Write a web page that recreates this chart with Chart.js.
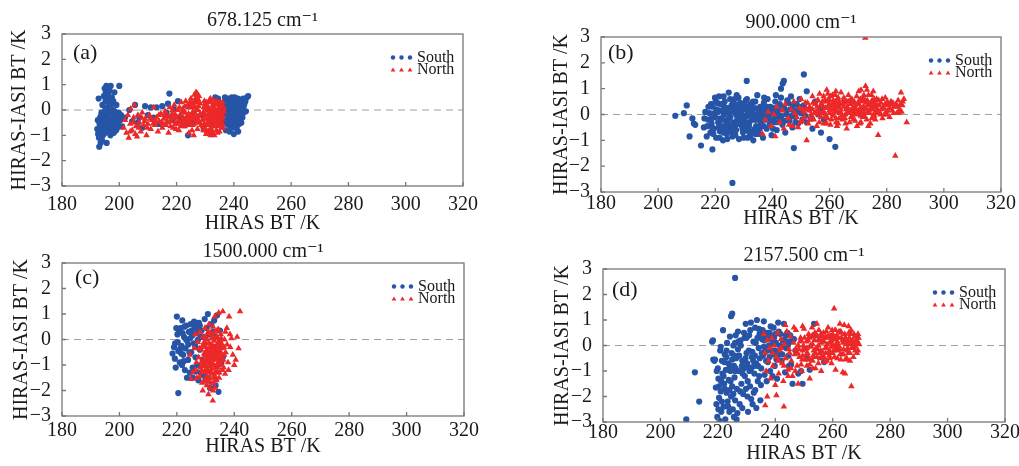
<!DOCTYPE html>
<html lang="en">
<head>
<meta charset="UTF-8" />
<title>HIRAS-IASI BT differences</title>
<script src="https://cdn.jsdelivr.net/npm/chart.js@4.4.1/dist/chart.umd.min.js"></script>
<style>
  body { margin: 0; background: #fff; width: 1019px; height: 466px; position: relative; overflow: hidden; }
  canvas { position: absolute; }
</style>
</head>
<body>
<canvas id="pa" width="520" height="240" style="left:0;top:0"></canvas>
<canvas id="pb" width="499" height="240" style="left:520px;top:0"></canvas>
<canvas id="pc" width="520" height="234" style="left:0;top:232px"></canvas>
<canvas id="pd" width="499" height="234" style="left:520px;top:232px"></canvas>
<script>
const xTicks = [180, 200, 220, 240, 260, 280, 300, 320];
const yTicks = [-3, -2, -1, 0, 1, 2, 3];
const titles = ['678.125 cm\u207B\u00B9', '900.000 cm\u207B\u00B9', '1500.000 cm\u207B\u00B9', '2157.500 cm\u207B\u00B9'];
const panelLabels = ['(a)', '(b)', '(c)', '(d)'];
const seriesNames = ['South', 'North'];

// (a) 678.125 cm-1
const southA = [[192.3,-0.75],[192.6,-0.95],[192.8,0.45],[193.0,-1.45],[193.1,-0.55],[193.3,-0.3],[193.5,-1.3],[193.6,-0.85],[193.8,-0.1],[194.0,-0.6],[194.1,0.2],[194.3,-1.0],[194.4,-0.35],[194.6,0.55],[194.7,-0.7],[194.9,0.85],[195.0,-0.2],[195.1,-0.9],[195.2,0.35],[195.4,-0.45],[195.5,0.95],[195.6,-1.3],[195.7,0.1],[195.8,-0.65],[196.0,0.6],[196.1,-0.3],[196.2,-0.8],[196.3,0.3],[196.5,-0.05],[196.6,0.75],[196.7,-0.55],[196.9,-1.0],[197.0,0.95],[197.1,0.2],[197.2,-0.4],[197.4,0.5],[197.5,-0.7],[197.7,-0.15],[197.8,0.0],[198.0,-0.35],[198.2,-0.6],[198.3,0.7],[198.5,-0.2],[198.7,-0.5],[198.9,-0.8],[199.0,0.2],[199.2,-0.3],[199.5,-0.55],[199.8,-0.1],[200.0,0.95],[200.3,-0.4],[200.6,-0.2],[201.0,-0.65],[194.2,-0.25],[195.3,-0.6],[196.4,-0.45],[197.3,-0.75],[198.1,-0.9],[193.9,-0.5],[195.9,-0.1],
  [193.2,-0.7],[193.7,-0.2],[194.5,-0.8],[194.8,-0.4],[195.1,0.0],[195.6,0.45],[196.0,-0.35],[196.3,-0.65],[196.8,0.4],[197.6,-0.45],[198.4,-0.05],[198.8,-0.3],[199.3,-0.7],[196.1,0.9],[195.3,0.7],[197.9,0.35],[192.5,-0.4],[194.0,-1.2],[192.9,-1.1],
  [202.0,-0.3],[203.5,0.0],[204.5,-0.45],[205.5,0.2],[206.5,-0.5],[207.0,-0.3],[208.0,-0.7],[209.0,0.15],[210.0,-0.2],[211.0,0.1],[212.0,-0.3],[213.0,0.1],[214.0,-0.55],[215.0,0.15],[216.5,-0.1],[217.0,0.25],[217.5,0.65],[218.5,-0.4],[219.0,0.05],[220.5,0.35],[221.5,-0.3],[223.0,-0.6],[224.0,-1.0],[224.5,0.15],[226.0,-0.45],[228.5,-0.2],[229.5,-0.75],[230.5,0.1],[232.0,-0.5],[233.5,0.5],[234.5,0.45],[235.5,-0.3],
  [235.8,0.1],[236.2,-0.2],[236.5,0.3],[236.8,-0.5],[237.0,0.0],[237.2,-0.8],[237.5,0.2],[237.7,-0.35],[238.0,0.45],[238.2,-0.1],[238.4,-0.6],[238.6,0.15],[238.8,-0.3],[239.0,0.35],[239.2,-0.7],[239.4,0.0],[239.6,-0.45],[239.8,0.25],[240.0,-0.95],[240.1,-0.2],[240.3,0.5],[240.5,0.1],[240.7,-0.55],[240.9,-0.1],[241.1,0.3],[241.3,-0.35],[241.5,-0.85],[241.7,0.05],[241.9,0.4],[242.1,-0.25],[242.3,0.2],[242.6,-0.5],[242.9,0.0],[243.2,0.45],[243.5,-0.1],[243.8,0.3],[244.2,-0.05],[244.6,0.5],[245.0,0.55],[236.9,0.5],[238.5,-0.85],[239.9,0.1],[240.8,0.35],[241.0,-0.7],[242.0,-0.05],[237.4,-0.1],[239.3,0.5],[243.0,-0.3],
  [236.4,-0.45],[237.1,0.35],[237.9,-0.25],[238.3,0.3],[238.9,-0.5],[239.5,0.2],[240.2,0.0],[240.6,-0.35],[241.2,0.1],[241.6,-0.4],[242.2,0.35],[242.4,-0.15],[242.8,0.25],[243.3,0.1],[243.6,0.2],[244.0,0.35],[239.1,-0.15],[240.4,-0.7],[241.8,-0.55],[238.1,0.05],[237.6,-0.55],[239.7,0.4],[241.4,0.45],[236.6,0.0]];
const northA = [[201.5,-0.7],[202.0,-0.4],[202.5,-0.9],[203.0,-0.2],[203.3,-1.1],[203.8,-0.55],[204.0,0.05],[204.5,-0.8],[205.0,-0.3],[205.3,0.2],[205.8,-0.65],[206.2,-1.05],[206.5,-0.2],[207.0,-0.5],[207.5,-0.85],[208.0,-0.1],[208.5,-0.6],[209.0,-0.35],[209.5,-1.0],[210.0,-0.55],[210.5,-0.2],[211.0,-0.75],[211.5,-0.4],[212.0,0.1],[212.5,-0.6],[213.0,-0.3],[213.5,-0.85],[214.0,-0.45],[214.5,-0.15],[215.0,-0.7],
  [212.8,-0.45],[210.8,-0.35],[208.8,-0.45],[206.8,-0.7],[204.8,-0.5],[203.8,-0.85],[205.6,-0.95],[207.8,-0.3],[209.8,-0.7],[211.8,-0.55],[213.8,-0.2],[214.8,-0.5],
  [215.5,-0.35],[216.0,-0.05],[216.3,-0.6],[216.8,-0.25],[217.2,-0.9],[217.6,0.1],[218.0,-0.45],[218.4,-0.15],[218.8,-0.7],[219.2,0.2],[219.6,-0.3],[220.0,-0.55],[220.4,0.0],[220.8,-0.8],[221.2,-0.2],[221.6,0.3],[222.0,-0.45],[222.4,-0.05],[222.8,-0.65],[223.2,0.35],[223.6,-0.25],[224.0,0.1],[224.3,-0.9],[224.6,-0.45],[225.0,0.45],[225.3,-0.15],[225.6,-0.6],[225.9,0.2],[226.2,0.6],[226.5,-0.35],[226.8,0.7],[227.0,0.0],[227.3,-0.75],[227.6,0.4],[227.9,-0.25],[226.0,-1.0],[224.8,-0.3],[223.0,-0.1],[221.0,-0.5],[219.0,-0.35],[217.0,-0.5],
  [218.2,-0.25],[219.5,-0.55],[220.2,-0.3],[221.0,0.1],[221.8,-0.6],[222.2,-0.3],[222.9,0.15],[223.4,-0.45],[223.8,-0.6],[224.2,-0.15],[224.9,0.1],[225.2,0.25],[225.5,-0.3],[225.8,-0.05],[226.1,-0.55],[226.4,0.35],[226.7,0.1],[227.1,0.5],[227.4,-0.35],[227.7,0.15],[228.0,-0.5],[228.2,0.25],[226.9,-0.2],[225.4,-0.8],[227.2,0.65],
  [215.2,-0.55],[215.8,-0.2],[216.6,-0.45],[217.4,-0.3],[217.9,-0.65],[218.6,0.0],[219.4,-0.15],[219.8,-0.75],[220.6,-0.45],[221.4,-0.65],[221.9,-0.1],[222.6,-0.5],[223.0,-0.35],[223.9,0.2],[224.4,-0.35],[224.7,0.3],[225.1,-0.55],[225.7,0.1],[226.3,-0.15],[226.6,0.45],[227.0,-0.5],[227.5,0.0],[227.8,0.55],[228.3,-0.15],[228.6,-0.6],[226.0,0.3],[227.3,0.3],[225.9,-0.35],[224.1,-0.6],[222.1,0.05],
  [229.0,-0.4],[229.5,0.1],[229.8,-0.8],[230.1,-0.2],[230.4,0.3],[230.7,-0.55],[231.0,-0.95],[231.2,0.0],[231.5,-0.35],[231.8,0.45],[232.0,-0.7],[232.3,-0.1],[232.6,0.2],[232.9,-0.5],[233.2,-1.0],[233.5,-0.25],[233.8,0.35],[234.1,-0.65],[234.4,0.05],[234.7,-0.4],[235.0,-0.85],[235.3,0.25],[235.6,-0.15],[236.0,-0.55],[236.4,0.1],[230.0,-0.6],[231.6,-0.6],[233.0,0.1],[234.0,-0.15],[235.0,-0.45],[232.5,-0.85],[230.6,0.0],
  [229.3,-0.1],[229.6,-0.55],[229.9,0.25],[230.2,-0.75],[230.5,-0.35],[230.8,0.15],[231.1,-0.45],[231.4,-0.8],[231.7,-0.15],[232.0,0.3],[232.2,-0.4],[232.4,-0.95],[232.7,-0.3],[233.0,-0.65],[233.3,0.0],[233.6,-0.45],[233.9,-0.8],[234.2,0.2],[234.5,-0.25],[234.8,-0.6],[235.1,0.0],[235.4,-0.3],[235.7,-0.7],[236.2,-0.25],[230.3,-0.95],[231.3,0.35],[232.8,0.4],[234.3,-0.9],[229.5,-0.35],[236.6,-0.05],
  [229.2,-0.65],[229.7,0.35],[230.0,0.05],[230.9,-0.2],[231.4,-0.05],[231.9,-0.35],[232.1,-0.9],[232.5,-0.2],[233.1,-0.4],[233.4,0.25],[233.7,-0.1],[234.0,-0.4],[234.6,0.3],[234.9,-0.15],[235.2,-0.6],[235.5,0.1],[235.9,-0.35],[236.3,-0.7],[230.6,-0.85],[231.9,-1.0],[233.9,-0.55],[229.4,-0.8],[236.0,0.3],[232.2,0.05],[230.2,0.2]];

// (b) 900.000 cm-1
const southB = [[206,-0.05],[209,0.05],[210,0.35],[211,-0.85],[212,-0.15],[212.5,-0.35],[213,-0.4],[215,-1.2],[219,-1.35],[226,-2.65],[231,1.3],[243,1.0],[244,1.3],[243.6,1.2],[251,1.55],[247.5,-1.3],[260,-0.95],[262,-1.25],[257,-0.7],[252,0.9],
  [216,-0.5],[216.5,0.1],[217,-0.85],[217.5,-0.2],[218,0.05],[218.3,-0.7],[218.7,-0.35],[219,0.3],[219.5,-0.55],[220,-0.1],[220.3,-0.9],[220.7,0.45],[221,-0.3],[221.3,0.7],[221.6,-0.65],[222,0.15],[222.3,-0.45],[222.7,-1.0],[223,0.0],[223.3,0.5],[223.7,-0.25],[224,-0.75],[224.3,0.25],[224.7,0.85],[225,-0.5],[225.3,-0.1],[225.7,0.35],[226,-0.85],[226.3,-0.3],[226.7,0.6],[227,0.05],[227.3,-0.6],[227.7,-0.2],[228,0.3],[228.3,-0.95],[228.7,0.45],[229,-0.4],[229.3,0.0],[229.7,-0.7],[230,0.2],[230.3,-0.15],[230.7,0.55],[231,-0.5],[231.3,-0.9],[231.7,0.1],[232,-0.3],[232.3,0.4],[232.7,-0.65],[233,0.15],[233.3,-1.0],[233.7,-0.2],[234,0.5],[234.3,-0.45],[234.7,0.75],[235,-0.1],[235.3,-0.75],[235.7,0.3],[236,-0.35],[236.3,0.05],[236.7,-0.9],[237,0.45],[237.3,-0.2],[237.7,0.2],[238,-0.55],[238.3,0.6],[238.7,-0.05],[239,-0.4],[239.3,0.3],[239.7,-0.8],[240,0.1],[240.5,-0.3],[241,0.5],[241.5,-0.6],[242,0.2],[242.5,-0.1],[243,0.65],[243.5,-0.4],[244,0.3],[244.5,-0.7],[245,0.0],[245.5,0.45],[246,-0.25],[246.5,0.7],[247,-0.5],[247.5,0.15],[248,-0.1],[248.5,0.4],[249,-0.35],[249.5,0.6],[250,0.05],[250.5,-0.2],[251,0.35],[252,-0.3],[253,0.2],[254,-0.55],[255,0.5],[256,0.0],[257,0.25],[258,-0.2],[219.7,0.05],[221.8,-0.15],[224.5,-0.35],[226.5,0.15],[228.5,-0.1],[230.5,-0.35],[232.5,0.0],[234.5,-0.2],[236.5,0.25],[238.5,-0.2],[218.5,0.4],[223.5,-0.6],[227.5,0.75],[231.5,0.3],[235.5,-0.55],[240.2,-0.55],[242.8,-0.2],[246.8,-0.05],[225.8,0.25],[229.8,-0.25],
  [218.8,-0.15],[219.3,-0.75],[220.5,0.2],[221.2,-0.5],[222.5,-0.2],[223.2,0.3],[223.9,-0.45],[224.9,0.05],[225.5,-0.65],[226.2,0.45],[226.9,-0.45],[227.2,0.25],[227.9,-0.35],[228.9,0.2],[229.5,-0.55],[230.2,0.4],[230.9,-0.05],[231.9,-0.7],[232.9,0.3],[233.5,0.0],[233.9,-0.55],[234.9,0.2],[235.9,0.1],[236.9,-0.45],[237.5,0.0],[238.9,0.15],[239.5,-0.25],[240.8,-0.1],[241.8,0.05],[243.2,-0.05],[244.8,0.15],[245.8,-0.2],[247.2,0.35],[248.8,0.1],[250.2,0.3],[221.5,-0.9],[224.2,-0.95],[227.0,-0.8],[229.9,-0.9],[232.2,-0.85],[234.1,-0.75],[217.2,-0.45],[216.2,-0.15],[219.9,0.65],[222.9,0.7],[228.1,0.65],[231.1,0.6],[237.1,0.65],[241.2,0.75],[245.2,0.55],
  [217.6,0.3],[218.9,-0.5],[220.1,0.5],[220.9,0.1],[221.9,0.4],[222.8,-0.7],[223.8,0.15],[224.6,-0.15],[225.2,0.6],[226.1,-0.6],[226.8,0.4],[227.6,-0.05],[228.4,0.1],[229.1,-0.2],[229.6,0.35],[230.4,-0.6],[231.2,0.0],[231.8,-0.45],[232.6,-0.15],[233.2,0.5],[233.8,0.25],[234.6,-0.6],[235.2,0.05],[236.2,-0.15],[237.2,0.1],[238.2,0.3],[239.2,0.0],[240.6,0.25],[241.6,-0.3],[242.6,0.4],[244.2,-0.25],[246.2,0.2],[248.2,-0.3],[249.2,0.2],[251.5,-0.05],[253.5,-0.15]];
const northB = [[236.5,-0.75],[237.5,-0.2],[238.5,0.1],[239.5,-0.45],[240.5,0.0],[241,-0.85],[241.5,0.3],[242.5,-0.3],[243.5,0.15],[244,-0.55],[244.5,0.4],[245.5,-0.15],[246.5,0.2],[247,-0.45],[247.5,0.5],[248.5,-0.1],[249,-0.5],[249.5,0.25],[250,0.6],[250.5,-0.25],[251,0.1],[251.5,0.45],[252,-1.0],[252.5,-0.35],[253,0.3],[253.5,0.0],[254,0.7],[254.5,-0.2],[255,0.4],[255.5,-0.45],[256,0.15],[256.5,0.8],[257,-0.1],[257.5,0.5],[258,-0.35],[258.5,0.25],[259,0.95],[259.3,-0.15],[259.6,0.6],[260,0.05],[260.3,-0.4],[260.6,0.35],[261,0.75],[261.3,-0.05],[261.6,0.2],[262,0.5],[262.3,-0.3],[262.6,0.1],[263,0.65],[263.3,-0.15],[263.6,0.4],[264,0.85],[264.5,-0.2],[265,0.3],[265.5,0.0],[266,-0.55],[266.5,0.5],[267,0.15],[267.5,-0.1],[268,0.45],[268.5,0.25],[269,-0.25],[269.5,0.7],[270,0.05],[270.3,0.4],[270.6,-0.35],[271,0.95],[271.3,0.15],[271.6,-0.1],[272,0.55],[272.3,0.25],[272.6,1.1],[273,-0.2],[273.3,0.35],[273.6,0.75],[274,0.05],[274.3,-0.35],[274.6,0.45],[275,0.2],[275.3,0.9],[275.6,-0.05],[276,0.3],[276.5,0.6],[277,-0.8],[277.5,0.1],[278,0.45],[278.5,-0.15],[279,0.25],[279.5,0.65],[280,0.0],[280.5,0.35],[281,-0.1],[281.5,0.5],[282,0.15],[282.5,0.3],[283,-1.6],[283.5,0.05],[284,0.55],[284.5,0.2],[285,0.85],[285.5,0.35],[286,0.6],[287,-0.3],[272.5,2.97],[258,0.1],[259.5,0.3],[261.5,0.45],[263.5,0.05],[262.8,0.3],[260.8,0.2],[257.8,0.3],[256.2,0.0],[265.8,0.2],[268.8,0.05],[271.8,0.3],[273.8,0.15],[275.8,0.45],[267.8,0.6],[270.8,0.6],[274.8,-0.15],[278.8,0.3],[264.8,0.55],[255.8,0.55],[253.8,-0.05],[251.8,0.2],[249.8,-0.3],[247.8,0.05],[245.8,-0.4],
  [252.8,0.15],[254.2,0.45],[255.3,0.1],[256.8,0.35],[257.3,0.05],[258.3,0.55],[258.8,-0.1],[259.8,0.4],[260.4,0.7],[261.1,0.0],[261.8,0.35],[262.4,0.15],[263.2,0.45],[263.9,0.2],[264.3,-0.05],[265.2,0.45],[266.2,0.3],[266.8,0.05],[267.3,0.4],[268.2,0.1],[268.6,0.5],[269.3,0.2],[269.8,0.4],[270.2,0.15],[270.9,-0.05],[271.4,0.5],[272.2,0.05],[272.8,0.45],[273.4,0.1],[274.2,0.35],[274.9,0.55],[275.4,0.0],[276.2,0.15],[276.8,0.35],[277.2,0.55],[278.2,0.2],[279.2,0.0],[280.2,0.5],[281.2,0.25],[282.2,0.45],[283.8,0.3],[284.8,0.4],[285.2,0.1],[260,0.55],[262,0.75],[265,0.65],[268,-0.05],[272,0.75],[276,-0.2],[279.8,0.1],[256,0.55],[254,0.2],[259,-0.35],[263,-0.35],[267,-0.3],[271,-0.3],
  [250.5,0.2],[251.2,-0.1],[252.3,0.45],[253.2,-0.2],[254.6,0.05],[255.6,0.3],[256.4,-0.3],[257.2,0.4],[257.9,0.7],[258.6,0.0],[259.2,0.5],[259.9,0.15],[260.6,-0.2],[261.3,0.55],[261.9,0.1],[262.2,-0.15],[262.9,0.6],[263.4,0.3],[264.1,0.05],[264.6,0.4],[265.4,-0.15],[265.9,0.5],[266.4,0.1],[267.2,0.55],[267.7,0.2],[268.3,-0.2],[268.9,0.35],[269.6,0.0],[270.4,0.55],[270.7,0.25],[271.2,0.05],[271.9,0.65],[272.4,-0.1],[272.9,0.2],[273.2,0.55],[273.9,0.4],[274.4,0.2],[274.7,0.75],[275.2,0.35],[275.7,0.6],[276.3,0.05],[276.7,0.2],[277.4,0.35],[277.8,0.0],[278.4,0.6],[279.4,0.4],[280.4,0.15],[281.4,0.4],[282.4,0.05],[283.3,0.4],[284.2,0.05],[285.6,0.5],[259.4,0.8],[262.2,0.9],[266.6,0.75],[270.2,0.9],[273.1,0.95],[262.6,-0.45],[265.6,-0.35],[269.6,-0.45],[273.6,-0.45]];

// (c) 1500.000 cm-1
const southC = [[218.5,-0.55],[219,-0.3],[219.3,-0.75],[219.6,-1.1],[220,0.9],[220.3,-0.1],[220.5,-0.45],[220.8,0.3],[221,-0.9],[221.3,0.45],[221.6,-0.25],[221.9,0.75],[222.2,-0.6],[222.5,0.1],[222.8,-1.2],[223,-0.35],[223.3,0.55],[223.6,-0.05],[223.9,-0.8],[224.2,0.3],[224.5,-1.3],[224.8,0.6],[225,-0.5],[225.3,0.15],[225.6,-1.5],[225.9,-0.15],[226.2,0.5],[226.5,-0.7],[226.8,0.25],[227.1,-1.0],[227.4,0.0],[227.7,0.65],[228,-0.4],[228.3,-1.3],[228.6,0.35],[229,-0.8],[229.3,0.1],[229.7,0.8],[230,-1.6],[230.4,0.45],[230.8,1.0],[231.2,0.2],[231.6,-1.9],[232,0.6],[232.5,0.3],[233,0.75],[233.5,0.1],[234,0.95],[234.5,-2.05],[235,0.35],[235.5,-0.9],[236,-0.7],[220.5,-2.1],[222,0.25],[224,-0.2],[226,0.7],[228,0.55],[219.8,0.45],[221.5,-0.55],[223.5,-1.5],[225.5,-1.1],[227.5,-1.6],[229.5,-1.4],[231,-1.5],[233.5,-1.8],
  [220.2,0.2],[221.2,-0.35],[222.4,-0.85],[223.2,0.0],[224.4,-0.5],[225.2,0.35],[226.4,-0.25],[227.2,0.45],[222.6,0.5],[224.6,0.05],[226.6,-1.25],[228.4,0.1],[219.4,-0.15],[221.8,-1.0]];
const northC = [[224.5,-0.6],[225,-1.55],[225.5,-1.3],[226,-0.35],[226.5,0.2],[226.8,-0.9],[227,-1.5],[227.3,-0.1],[227.6,-0.7],[228,0.3],[228.2,-1.1],[228.5,-0.4],[228.8,-1.7],[229,0.1],[229.2,-0.8],[229.4,-1.3],[229.6,-0.2],[229.8,0.45],[230,-1.0],[230.2,-0.5],[230.4,-1.8],[230.6,0.0],[230.8,-1.2],[231,-0.65],[231.2,0.6],[231.4,-1.5],[231.6,-0.3],[231.8,-0.95],[232,0.25],[232.2,-1.35],[232.4,-0.55],[232.6,-2.0],[232.8,0.05],[233,-0.8],[233.2,0.9],[233.4,-1.1],[233.6,-0.4],[233.8,-1.6],[234,0.35],[234.2,-0.15],[234.4,-0.9],[234.6,1.05],[234.8,-1.3],[235,-0.45],[235.3,0.2],[235.6,-0.75],[236,1.1],[236.3,-1.1],[236.6,0.0],[237,-0.5],[237.4,0.45],[237.8,-0.9],[238.2,0.9],[238.6,-0.3],[239,0.05],[239.5,-0.6],[240,-1.0],[240.5,-0.8],[241,0.1],[241.5,-0.35],[242,1.1],[232.5,-2.4],[229,-2.0],[231,-2.15],[228,-1.45],[230,-0.15],[231,0.25],[232,-0.6],[233,-0.05],[234,-0.6],[235,-1.0],[229.5,-0.55],[230.5,-1.45],[231.5,-1.05],[232.5,-0.25],[233.5,-1.25],[234.5,-0.35],[235.5,-0.15],[236.5,-0.6],[228.5,-0.9],[230.8,-0.85],[232.8,-1.0],[234.8,-0.05],[229.8,-1.25],[231.8,-1.7],[233.3,-1.9],[227.8,-0.35],[236.8,-1.35],[238,-1.2],[226.5,-1.2],
  [228.9,-0.25],[229.3,-0.95],[229.7,-0.6],[230.1,-0.3],[230.3,-1.15],[230.7,-0.7],[231.1,-0.15],[231.3,-0.85],[231.7,-1.25],[231.9,-0.45],[232.1,0.05],[232.3,-0.9],[232.7,-0.5],[232.9,-1.5],[233.1,-0.3],[233.3,-0.7],[233.7,0.1],[233.9,-1.0],[234.1,-0.45],[234.3,-1.3],[234.7,-0.7],[234.9,-0.2],[235.2,-0.9],[235.4,0.05],[235.8,-0.35],[236.2,-0.8],[229.9,-1.6],[231.5,-1.9],[233.6,-1.55],[230.9,0.3],[232.6,0.5],[234.4,0.4],[228.7,-1.25],[236.9,0.3],[237.5,-0.2],[238.5,0.2],
  [229.1,-1.05],[229.5,-0.1],[230.1,-0.8],[230.5,-0.4],[230.9,-1.0],[231.1,-0.5],[231.5,-0.7],[231.9,-0.2],[232.1,-1.15],[232.5,-0.75],[232.9,-0.3],[233.1,-1.4],[233.5,-0.6],[233.9,-0.25],[234.1,-0.8],[234.5,-1.1],[234.9,-0.5],[235.1,-0.05],[235.5,-0.55],[235.9,-1.2],[230.3,-0.6],[231.3,-1.3],[232.3,-0.35],[233.3,0.3],[234.3,0.05],[235.3,-0.3],[229.7,0.1],[236.4,-0.3],[230.7,-1.65],[232.7,-1.7],[234.7,-1.5],[231.7,0.2]];

// (d) 2157.500 cm-1
const southD = [[209,-2.9],[212,-1.05],[213.5,-2.2],[226,2.65],[218,0.15],[218.3,0.2],[224.6,1.15],[225,1.25],[218.4,-0.55],[218.8,-0.6],
  [219,-0.55],[219.3,-1.65],[219.5,-2.3],[219.8,-2.8],[220,-0.9],[220.2,-1.3],[220.4,-2.05],[220.6,-2.95],[220.8,-0.2],[221,-1.8],[221.2,-2.6],[221.4,-0.6],[221.6,-1.1],[221.8,0.6],[222,-2.4],[222.2,-1.5],[222.4,-0.35],[222.6,-2.9],[222.8,-0.95],[223,-1.85],[223.2,0.1],[223.4,-2.2],[223.6,-0.7],[223.8,-1.35],[224,-2.6],[224.2,0.35],[224.4,-1.0],[224.6,-2.0],[224.8,-0.3],[225,-1.6],[225.2,-2.5],[225.4,0.0],[225.6,-0.8],[225.8,-1.25],[226,-2.15],[226.2,0.4],[226.4,-0.5],[226.6,-1.7],[226.8,-2.65],[227,-0.15],[227.3,-1.0],[227.6,-2.3],[227.9,0.2],[228.2,-1.5],[228.5,-0.6],[228.8,-1.9],[229.1,0.5],[229.4,-1.2],[229.7,0.85],[230,-0.3],[230.3,-2.0],[230.6,-0.85],[230.9,0.4],[231.2,-1.6],[231.5,0.9],[231.8,-0.45],[232.1,-2.3],[232.4,0.15],[232.7,-1.1],[233,0.7],[233.3,-0.7],[233.6,1.0],[233.9,-1.4],[234.2,-0.1],[234.5,0.45],[234.8,-2.15],[235.1,-0.9],[235.4,0.25],[235.7,-0.4],[236,0.95],[236.3,-1.15],[236.6,-0.2],[237,0.5],[237.4,-0.65],[237.8,0.0],[238.2,-1.0],[238.6,0.35],[239,-0.35],[239.4,0.7],[239.8,-0.8],[240.2,0.1],[240.6,-1.3],[241,0.9],[241.4,-0.25],[241.8,0.45],[242.2,-0.6],[242.6,0.2],[243,0.85],[243.4,-1.05],[243.8,-0.1],[244.2,0.5],[244.6,-0.4],[245,0.15],[245.5,-0.75],[246,-1.5],[246.5,0.25],[247,-0.2],[248,-1.1],[249,-1.0],[249.5,-1.5],[251,-0.5],[252,-0.95],[253.5,0.85],[254,0.4],[257,-0.65],[230,0.3],[231,-1.0],[232,-0.25],[233,-1.75],[234,-0.8],[235,-1.55],[236,-0.05],[228,0.0],[227,0.55],[226,-1.0],[225,-0.55],[224,-1.75],[223,-0.45],[222,-1.2],[221,-0.05],[229,-0.9],[238,-0.45],[240,-0.2],[242,-0.05],[239,-1.2],[237,-1.4],[230.5,-2.6],[228.5,-2.45],[226.5,-2.9],[232.5,-1.85],
  [229.6,-0.5],[230.8,-0.2],[231.6,-0.9],[232.9,-0.4],[233.8,0.3],[234.6,-0.5],[235.6,0.6],[236.8,-0.6],[237.6,0.25],[238.8,-0.2],[240.4,-0.55],[241.6,0.0],[243.6,0.4],[244.8,-0.8],[239.6,0.3],[238.4,0.75],[236.4,0.4],[234.4,-1.2],[232.6,-0.8],[230.4,-1.4],[228.6,-1.1],[227.4,-0.4],[226.2,-0.9],[225.4,-1.9],[224.4,-1.4],[223.4,-0.95],[222.4,-1.7],[221.4,-2.2],[220.4,-1.6],[219.6,-1.0],
  [229.3,0.3],[230.2,-0.7],[231.3,0.6],[232.3,-0.6],[233.2,0.1],[234.3,0.65],[235.3,-0.3],[236.2,0.2],[237.2,-0.2],[238.0,0.5],[239.2,0.1],[240.0,0.45],[240.8,-0.4],[241.2,0.55],[242.4,-0.35],[243.2,0.2],[244.4,0.0],[245.2,0.4],[228.4,-0.8],[227.2,0.15],[226.0,0.1],[225.8,-0.4],[224.2,-0.8],[223.0,-0.2],[222.2,-0.65],[221.2,-1.4],[220.2,-2.5],[223.6,-2.4],[225.6,-2.8],[227.8,-1.8],[229.8,-1.7],[231.6,-2.1],[233.4,-2.45]];
const northD = [[236,0.45],[236.4,-0.3],[236.8,-1.0],[237.2,0.2],[237.6,-0.6],[238,-0.1],[238.4,-1.3],[238.8,0.3],[239.2,-0.8],[239.6,0.0],[240,-1.55],[240.4,-0.45],[240.8,0.5],[241.2,-1.1],[241.6,-0.2],[242,0.25],[242.4,-0.7],[242.8,-1.4],[243.2,0.05],[243.6,-0.5],[244,0.55],[244.4,-0.95],[244.8,-0.15],[245.2,0.35],[245.6,-0.6],[246,-1.2],[246.4,0.1],[246.8,-0.35],[247.2,0.6],[247.6,-0.8],[248,0.0],[248.4,-0.45],[248.8,0.3],[249.2,-1.0],[249.6,-0.2],[250,0.65],[250.4,-0.55],[250.8,0.15],[251.2,-0.3],[251.6,0.45],[252,-0.75],[252.4,-0.05],[252.8,0.7],[253.2,-0.4],[253.6,0.2],[254,-0.9],[254.4,0.4],[254.8,-0.15],[255.2,0.6],[255.6,-0.5],[256,0.1],[256.4,-0.25],[256.8,0.5],[257.2,-0.65],[257.6,0.3],[258,-0.1],[258.4,0.7],[258.8,-0.4],[259.2,0.15],[259.6,-0.7],[260,0.45],[260.4,-0.2],[260.8,0.6],[261.2,0.05],[261.6,-0.5],[262,0.3],[262.4,-0.15],[262.8,0.55],[263.2,-0.35],[263.6,0.1],[264,0.8],[264.4,-0.55],[264.8,0.25],[265.2,-0.1],[265.6,0.5],[266,-0.3],[266.4,0.6],[266.8,0.05],[267.2,-0.45],[267.6,0.35],[268,-0.05],[268.4,0.2],[268.8,-0.2],[269.2,0.05],[236.5,-2.35],[237.2,-2.0],[240.4,-1.95],[243,-2.4],[260.5,1.45],[266.5,-1.6],[263.5,-1.05],[264.3,-1.1],[261,-0.95],[256,-1.0],[252,-1.3],[248,-1.5],[244.5,-1.2],[250,-0.1],[252,0.3],[254,-0.3],[256,0.35],[258,0.05],[260,-0.3],[262,0.0],[255,0.0],[257,0.15],[259,0.4],[261,0.25],[263,0.3],[265,0.15],[267,0.2],[253,0.05],[251,-0.1],[249,0.2],[247,-0.15],[245,-0.3],[254.5,0.85],[249.5,0.75],[243.5,0.8],[246.5,0.7],[265.5,0.75],[262.5,0.85],[268,0.35],[266,-0.6],[258,-0.6],[253,-0.6],[259.5,-0.05],[257.5,-0.3],
  [247.8,-0.3],[248.6,0.15],[249.4,-0.55],[250.2,0.3],[250.6,-0.15],[251.4,0.2],[251.8,-0.5],[252.6,0.35],[253.4,-0.2],[253.8,0.5],[254.6,-0.45],[255.4,0.25],[255.8,-0.2],[256.6,0.15],[257.4,-0.1],[257.8,0.55],[258.6,-0.25],[259.4,0.3],[259.8,0.6],[260.2,0.0],[260.6,-0.45],[261.4,0.4],[261.8,-0.2],[262.2,0.55],[262.6,-0.35],[263.4,0.2],[263.8,-0.15],[264.2,0.45],[264.6,0.05],[265.4,-0.3],[265.8,0.3],[266.2,0.15],[266.6,-0.1],[267.4,0.45],[267.8,-0.2],[268.2,0.1],[268.6,0.3],[261,0.6],[259,-0.5],[257,-0.45],[255,-0.7],[253,-0.9],[251,-0.8],[249,-0.75],[247,-1.0],[245.5,-0.9],[243,-0.8],[241,-0.6],[239,-0.3],[242,-0.1],
  [248.2,-0.15],[249.8,0.0],[250.8,-0.35],[251.8,0.35],[252.2,0.0],[253.0,0.4],[254.2,-0.1],[254.9,0.2],[255.9,0.45],[256.2,-0.45],[257.0,0.3],[258.2,0.35],[258.9,0.1],[259.6,0.2],[260.3,0.3],[260.9,-0.1],[261.6,0.15],[262.3,-0.05],[263.0,0.5],[263.7,-0.35],[264.3,0.3],[265.0,-0.2],[265.7,0.05],[266.3,0.45],[267.0,-0.1],[267.7,0.1],[268.4,-0.3],[269.0,0.3],[268.8,0.45],[255.5,-0.3],[253.5,-0.45],[251.5,-0.55],[249.5,-0.4],[262.8,-0.55],[259.2,-0.25],[264.9,-0.5]];

const SERIF = '"Liberation Serif", "DejaVu Serif", serif';
const BLUE = 'rgb(38, 84, 166)';
const RED = 'rgb(237, 40, 40)';
const INK = '#1a1a1a';

// placement of every panel inside its canvas
const panels = [
  { id: 'pa', south: southA, north: northA, area: { left: 62, top: 34, right: 463, bottom: 186 }, titleY: 21, yTitlePad: 8, xTitlePad: 4, xTickPad: -1, label: [11, 19] },
  { id: 'pb', south: southB, north: northB, area: { left: 81, top: 37, right: 481, bottom: 192 }, titleY: 22.5, yTitlePad: 30, xTitlePad: 9, xTickPad: -8, label: [7, 16] },
  { id: 'pc', south: southC, north: northC, area: { left: 62, top: 31, right: 464, bottom: 184 }, titleY: 20, yTitlePad: 10, xTitlePad: 7, xTickPad: -5, label: [13, 15] },
  { id: 'pd', south: southD, north: northD, area: { left: 83, top: 37, right: 485, bottom: 190 }, titleY: 23.5, yTitlePad: 31, xTitlePad: 0, xTickPad: -9, label: [9, 21] }
];

const toPoints = arr => arr.map(p => ({ x: p[0], y: p[1] }));

const deco = {
  id: 'deco',
  afterDraw(chart, args, opts) {
    const { ctx, chartArea: a, scales } = chart;
    ctx.save();
    // frame
    ctx.strokeStyle = '#777';
    ctx.lineWidth = 1.3;
    ctx.strokeRect(a.left, a.top, a.right - a.left, a.bottom - a.top);
    // inward ticks
    ctx.beginPath();
    xTicks.forEach(v => {
      const px = scales.x.getPixelForValue(v);
      ctx.moveTo(px, a.bottom);
      ctx.lineTo(px, a.bottom - 4);
    });
    yTicks.forEach(v => {
      const py = scales.y.getPixelForValue(v);
      ctx.moveTo(a.left, py);
      ctx.lineTo(a.left + 4, py);
    });
    ctx.stroke();
    // title
    ctx.fillStyle = INK;
    ctx.font = '20px ' + SERIF;
    ctx.textAlign = 'center';
    ctx.textBaseline = 'middle';
    ctx.fillText(opts.title, (a.left + a.right) / 2, opts.titleY);
    // panel label
    ctx.font = '22px ' + SERIF;
    ctx.textAlign = 'left';
    ctx.fillText(opts.label, a.left + opts.labelPos[0], a.top + opts.labelPos[1]);
    // legend
    const rows = [a.top + 23.5, a.top + 36];
    ctx.font = '16px ' + SERIF;
    ctx.fillText(seriesNames[0], a.right - 46, rows[0]);
    ctx.fillText(seriesNames[1], a.right - 46, rows[1]);
    [-70, -61.5, -53].forEach(dx => {
      ctx.fillStyle = BLUE;
      ctx.beginPath();
      ctx.arc(a.right + dx, rows[0], 2.2, 0, Math.PI * 2);
      ctx.fill();
      ctx.fillStyle = RED;
      ctx.beginPath();
      ctx.moveTo(a.right + dx, rows[1] - 2.6);
      ctx.lineTo(a.right + dx + 2.4, rows[1] + 1.6);
      ctx.lineTo(a.right + dx - 2.4, rows[1] + 1.6);
      ctx.closePath();
      ctx.fill();
    });
    ctx.restore();
  }
};

panels.forEach((p, i) => {
  const canvas = document.getElementById(p.id);
  const W = canvas.width, H = canvas.height;
  new Chart(canvas, {
    type: 'scatter',
    data: {
      datasets: [
        {
          label: seriesNames[0],
          data: toPoints(p.south),
          pointStyle: 'circle',
          pointRadius: 3.1,
          pointBorderWidth: 0,
          backgroundColor: BLUE,
          borderColor: BLUE,
          order: 2
        },
        {
          label: seriesNames[1],
          data: toPoints(p.north),
          pointStyle: 'triangle',
          pointRadius: 3.8,
          pointBorderWidth: 0,
          backgroundColor: RED,
          borderColor: RED,
          order: 1
        },
        {
          type: 'line',
          label: 'zero',
          data: [{ x: xTicks[0], y: 0 }, { x: xTicks[xTicks.length - 1], y: 0 }],
          borderColor: '#a0a0a0',
          borderWidth: 1.2,
          borderDash: [7, 5],
          pointRadius: 0,
          order: 3
        }
      ]
    },
    options: {
      responsive: false,
      animation: false,
      events: [],
      layout: { padding: { left: 0, top: p.area.top, right: W - p.area.right, bottom: 0 } },
      plugins: {
        legend: { display: false },
        tooltip: { enabled: false },
        deco: { title: titles[i], titleY: p.titleY, label: panelLabels[i], labelPos: p.label }
      },
      scales: {
        x: {
          type: 'linear',
          min: 180,
          max: 320,
          afterBuildTicks: s => { s.ticks = xTicks.map(v => ({ value: v })); },
          afterFit: s => { s.height = H - p.area.bottom; s.paddingLeft = 0; s.paddingRight = 0; },
          grid: { display: false },
          border: { display: false },
          ticks: { font: { family: SERIF, size: 20 }, color: INK, padding: p.xTickPad, maxRotation: 0, autoSkip: false },
          title: { display: true, text: 'HIRAS BT /K', font: { family: SERIF, size: 20 }, color: INK, padding: { top: 0, bottom: p.xTitlePad } }
        },
        y: {
          type: 'linear',
          min: -3,
          max: 3,
          afterBuildTicks: s => { s.ticks = yTicks.map(v => ({ value: v })); },
          afterFit: s => { s.width = p.area.left; },
          grid: { display: false },
          border: { display: false },
          ticks: { font: { family: SERIF, size: 20 }, color: INK, padding: 3, autoSkip: false, callback: v => String(v).replace('-', '\u2212') },
          title: { display: true, text: 'HIRAS-IASI BT /K', font: { family: SERIF, size: 20 }, color: INK, padding: { top: p.yTitlePad, bottom: 0 } }
        }
      }
    },
    plugins: [deco]
  });
});
</script>
</body>
</html>
